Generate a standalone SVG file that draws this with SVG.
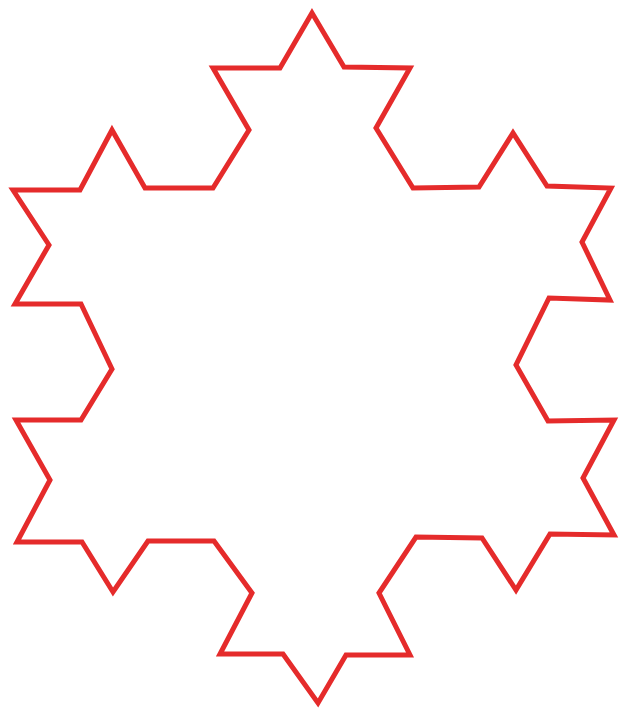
<svg xmlns="http://www.w3.org/2000/svg" width="628" height="708" viewBox="0 0 628 708">
<style>.k{fill:none;stroke:#e52b2b;stroke-width:5;stroke-linejoin:miter;stroke-miterlimit:10}</style>
<rect width="628" height="708" fill="#fff"/>
<g id="snowflake">
<polygon class="k" points="312,13 344,67 410,68 376,128 413,188 479,187 513,133 547,186 611,188 582,242 610,300 549,298 516,365 548,421 614,420 583,478 614,535 550,534 516,590 482,538 416,537 379,593 410,655 346,655 318,703 283,654 220,654 252,593 214,541 148,541 113,592 82,542 17,542 50,480 16,420 81,420 112,369 81,304 15,304 49,245 13,190 80,190 112,130 145,188 213,188 249,130 213,68 280,68"/>
</g>
</svg>
